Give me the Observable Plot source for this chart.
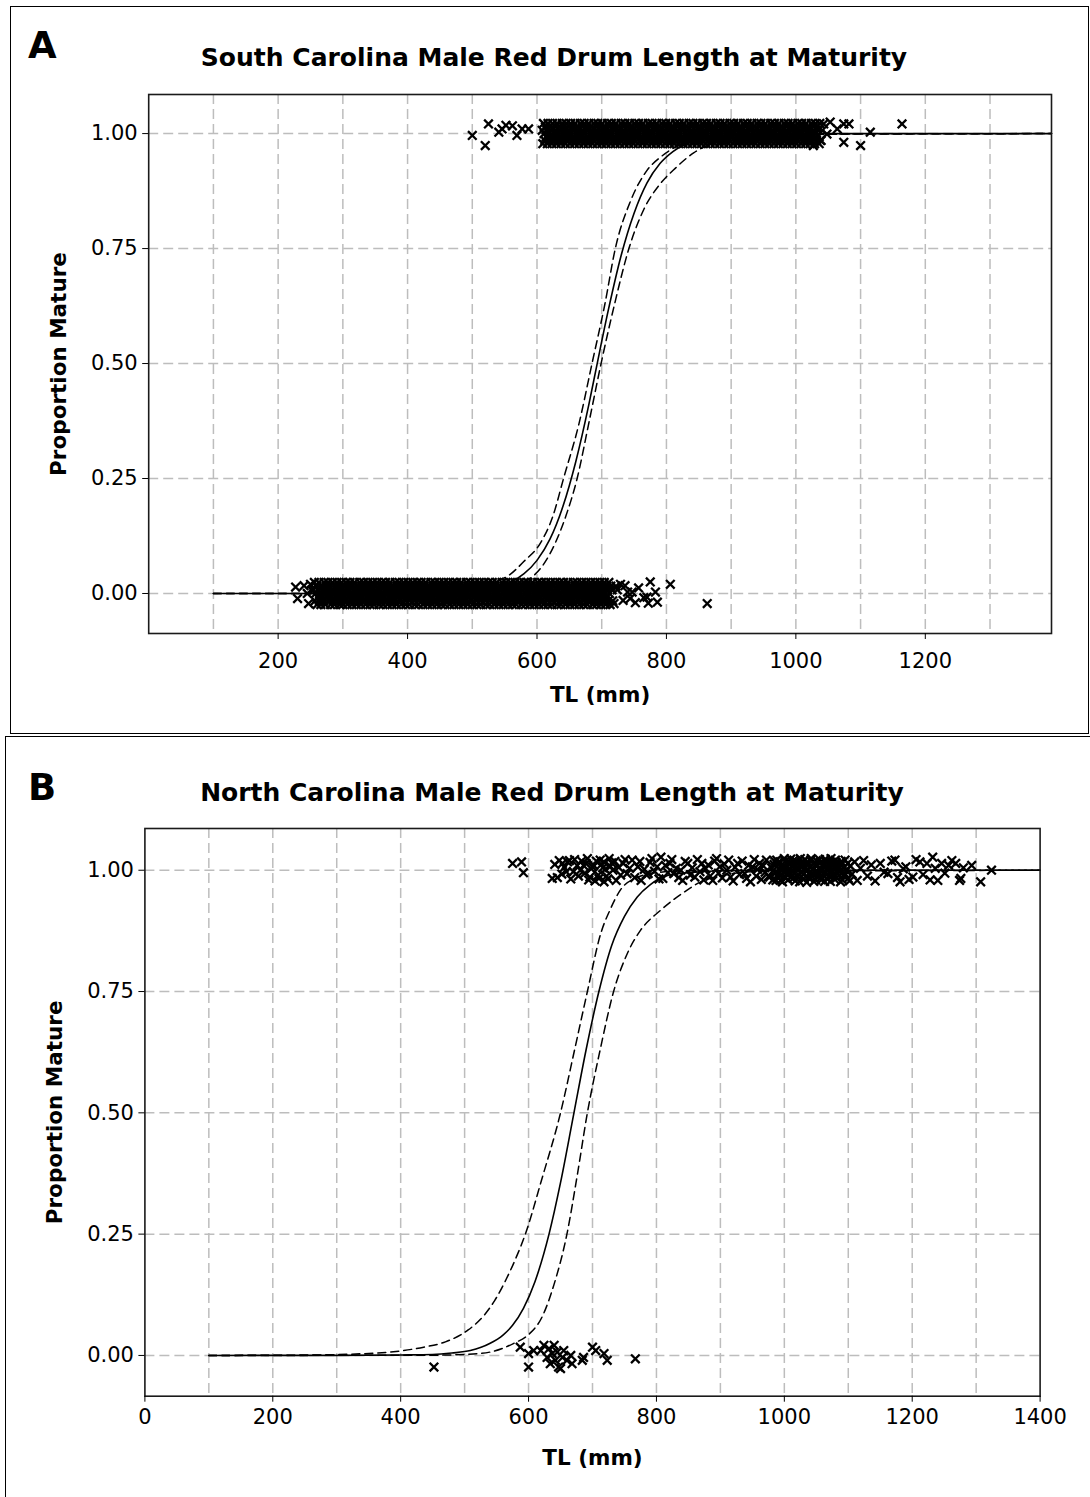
<!DOCTYPE html>
<html><head><meta charset="utf-8">
<script src="https://cdn.jsdelivr.net/npm/d3@7"></script>
<script src="https://cdn.jsdelivr.net/npm/@observablehq/plot@0.6"></script>
<style>
body{margin:0;background:#fff;}
#root{position:relative;width:1090px;height:1497px;overflow:hidden;background:#fff;}
.panel{position:absolute;border:1px solid #000;box-sizing:border-box;}
.chart{position:absolute;left:0;}
#ann{position:absolute;left:0;top:0;}
</style></head><body>
<div id="root">
  <div class="panel" style="left:10px;top:6px;width:1079px;height:728px"></div>
  <div class="panel" style="left:5px;top:736px;width:1100px;height:800px"></div>
  <svg id="ann" width="1090" height="1497" font-family="DejaVu Sans, Verdana, sans-serif" font-weight="bold">
    <text x="28" y="58" font-size="37">A</text>
    <text x="554" y="66" font-size="25" text-anchor="middle">South Carolina Male Red Drum Length at Maturity</text>
    <text x="28" y="800" font-size="37">B</text>
    <text x="552" y="801" font-size="25" text-anchor="middle">North Carolina Male Red Drum Length at Maturity</text>
  </svg>
  <div id="chartA" class="chart" style="top:0"></div>
  <div id="chartB" class="chart" style="top:737px"></div>
</div>
<script>
// ---------- shared ticks ----------
const yTicks = [0, 0.25, 0.5, 0.75, 1];
const gridXVals = [100,200,300,400,500,600,700,800,900,1000,1100,1200,1300];
const xTicksA = [200,400,600,800,1000,1200];
const xTicksB = [0,200,400,600,800,1000,1200,1400];

// ---------- Panel A: South Carolina ----------
// fitted curve (solid) and confidence bounds (dashed)
const scFitX = [100,200,300,400,450,500,530,560,580,600,620,640,660,680,693,710,730,750,770,790,810,840,870,900,950,1000,1100,1395];
const scFitY = [0,0,0,0.0003,0.0013,0.005,0.011,0.025,0.043,0.072,0.118,0.189,0.287,0.41,0.5,0.615,0.735,0.827,0.893,0.935,0.961,0.983,0.992,0.997,0.999,1,1,1];
const scLoX = [100,400,500,540,556,580,605,625,641,665,685,705,721,745,770,791,820,860,900,1000,1395];
const scLoY = [0,0.0005,0.012,0.028,0.039,0.07,0.109,0.17,0.25,0.37,0.5,0.63,0.75,0.855,0.92,0.949,0.975,0.99,0.996,0.999,1];
const scHiX = [100,400,500,550,595,628,645,662,680,699,720,742,765,790,814,842,870,910,960,1395];
const scHiY = [0,0.0001,0.002,0.012,0.039,0.109,0.17,0.25,0.37,0.5,0.63,0.75,0.835,0.89,0.925,0.958,0.978,0.992,0.998,1];

// immature fish (plotted at 0 with jitter) - dense band rows
const scImmJitter = [0.024, 0.016, 0.008, 0, -0.008, -0.016, -0.024];
const scImm1 = [256,263,271,277,284,291,298,305,311,318,326,332,339,346,353,360,366,373,381,387,394,401,408,415,421,428,436,442,449,456,463,470,476,483,491,497,504,511,518,525,531,538,546,552,559,566,573,580,586,593,601,607,614,621,628,635,641,648,656,662,669,676,683,690,697,704,711];
const scImm2 = [259,267,274,280,288,294,301,309,315,322,329,336,343,349,357,363,370,377,384,391,398,404,412,418,425,432,439,446,453,459,467,473,480,487,494,501,508,514,522,528,535,542,549,556,563,569,577,583,590,597,604,611,618,624,632,638,645,652,659,666,673,679,687,693,700,707,714,722];
const scImm3 = [255,262,269,276,283,290,296,303,310,317,324,331,338,345,351,358,365,372,379,386,393,400,406,413,420,427,434,441,448,455,461,468,475,482,489,496,503,510,516,523,530,537,544,551,558,565,571,578,585,592,599,606,613,620,626,633,640,647,654,661,668,675,681,688,695,702,709,716];
const scImm4 = [258,265,272,279,286,293,299,306,313,320,327,334,341,347,354,361,368,375,382,389,395,402,409,416,423,430,437,444,450,457,464,471,478,485,492,499,505,512,519,526,533,540,547,554,560,567,574,581,588,595,602,609,615,622,629,636,643,650,657,664,670,677,684,691,698,705,712];
const scImm5 = [261,268,275,282,289,296,302,309,316,323,330,337,344,350,357,364,371,378,385,392,398,405,412,419,426,433,440,447,453,460,467,474,481,488,495,502,508,515,522,529,536,543,550,557,563,570,577,584,591,598,605,612,618,625,632,639,646,653,660,667,673,680,687,694,701,708];
const scImm6 = [257,264,270,278,285,292,297,304,312,319,325,333,340,346,352,359,367,374,380,388,396,403,410,417,422,429,435,443,451,458,462,469,477,484,490,498,506,513,520,527,532,539,545,553,561,568,572,579,587,594,600,608,616,623,630,637,642,649,655,663,671,678,682,689,696,703,710,717];
const scImm7 = [260,266,273,281,287,295,300,307,314,321,328,335,342,348,356,362,369,376,383,390,397,403,411,417,424,431,438,445,452,458,465,472,479,486,493,500,507,513,521,527,534,541,548,555,562,568,576,582,589,596,603,610,617,623,631,637,644,651,658,665,672,678,686,692,699,706,713];
// sparse immature points: [TL, jitter]
const scImmSparse = [[227,0.014],[230,-0.011],[240,0.017],[245,0],[247,-0.022],[252,0.007],[250,0.02],
  [719,-0.022],[724,0.008],[729,0.02],[733,-0.015],[736,0.017],[740,0.003],[744,-0.011],[747,0.003],[752,-0.02],[757,0.012],
  [765,-0.009],[770,-0.008],[772,-0.021],[775,0.025],[783,0.003],[786,-0.019],[806,0.02],[863,-0.022]];

// mature fish (plotted at 1 with jitter) - dense band rows
const scMatJitter = [0.022, 0.015, 0.007, 0, -0.007, -0.015, -0.022];
const scMat1 = [610,617,624,631,639,645,652,659,667,673,680,688,694,701,709,715,722,730,736,743,751,757,764,772,778,785,793,799,806,814,820,827,835,841,848,856,862,869,877,883,890,898,904,911,919,925,932,940,946,953,961,967,974,982,988,995,1003,1009,1016,1024,1030,1037];
const scMat2 = [613,620,628,634,641,649,655,662,670,676,683,691,697,704,712,718,725,733,739,746,754,760,767,775,781,788,796,802,809,817,823,830,838,844,851,859,865,872,880,886,893,901,907,914,922,928,935,943,949,956,964,970,977,985,991,998,1006,1012,1019,1027,1033];
const scMat3 = [608,615,622,629,636,643,650,657,664,671,678,685,692,699,706,713,720,727,734,741,748,755,762,769,776,783,790,797,804,811,818,825,832,839,846,853,860,867,874,881,888,895,902,909,916,923,930,937,944,951,958,965,972,979,986,993,1000,1007,1014,1021,1028,1035,1041];
const scMat4 = [611,618,626,632,640,647,653,661,668,674,682,689,695,703,710,716,724,731,737,745,752,758,766,773,779,787,794,800,808,815,821,829,836,842,850,857,863,871,878,884,892,899,905,913,920,926,934,941,947,955,962,968,976,983,989,997,1004,1010,1018,1025,1031];
const scMat5 = [614,621,627,635,642,648,656,663,669,677,684,690,698,705,711,719,726,732,740,747,753,761,768,774,782,789,795,803,810,816,824,831,837,845,852,858,866,873,879,887,894,900,908,915,921,929,936,942,950,957,963,971,978,984,992,999,1005,1013,1020,1026,1034];
const scMat6 = [612,619,625,633,638,646,654,660,666,675,681,687,696,702,708,717,723,729,738,744,750,759,765,771,780,786,792,801,807,813,822,828,834,843,849,855,864,870,876,885,891,897,906,912,918,927,933,939,948,954,960,969,975,981,990,996,1002,1011,1017,1023,1032,1039];
const scMat7 = [609,616,623,630,637,644,651,658,665,672,679,686,693,700,707,714,721,728,735,742,749,756,763,770,777,784,791,798,805,812,819,826,833,840,847,854,861,868,875,882,889,896,903,910,917,924,931,938,945,952,959,966,973,980,987,994,1001,1008,1015,1022,1029,1036];
const scMatSparse = [[500,-0.004],[520,-0.026],[525,0.021],[541,0.003],[546,0.01],[552,0.018],[562,0.017],[569,-0.004],[577,0.01],[587,0.01],
  [1027,-0.026],[1038,-0.015],[1043,0.021],[1048,-0.001],[1053,0.025],[1064,0.01],[1074,0.021],[1074,-0.019],[1082,0.021],[1100,-0.026],[1115,0.003],[1164,0.021]];

// ---------- Panel B: North Carolina ----------
const ncFitX = [100,300,400,450,480,509,540,560,575,592,610,632,650,671,690,710,730,750,770,790,820,860,900,1000,1400];
const ncFitY = [0,0.0002,0.001,0.002,0.005,0.01,0.025,0.042,0.062,0.097,0.152,0.25,0.356,0.5,0.63,0.75,0.845,0.905,0.945,0.97,0.99,0.996,0.999,1,1];
const ncLoX = [100,270,330,384,436,470,505,530,547,565,580,595,620,650,672,692,713,728,744,770,800,850,1400];
const ncLoY = [0,0.001,0.003,0.007,0.017,0.028,0.052,0.082,0.113,0.157,0.2,0.25,0.36,0.5,0.63,0.75,0.87,0.92,0.96,0.985,0.995,0.999,1];
const ncHiX = [100,450,500,540,577,600,621,640,660,676,692,712,733,755,775,806,848,869,900,950,1400];
const ncHiY = [0,0.0005,0.002,0.007,0.025,0.043,0.079,0.147,0.25,0.37,0.5,0.63,0.75,0.83,0.876,0.917,0.959,0.976,0.988,0.997,1];

const ncImm = [[452,-0.024],[587,0.017],[600,0.004],[600,-0.024],[608,0.01],[619,0.01],[624,0.021],[629,-0.004],[632,0.014],[634,-0.017],[637,0.004],[640,0.021],[642,-0.01],[645,0.007],[647,-0.024],[650,-0.027],[653,-0.004],[655,0.01],[660,-0.01],[666,0],[668,-0.017],[684,-0.01],[686,-0.004],[700,0.017],[705,0.01],[718,0.004],[723,-0.01],[767,-0.007]];
const ncMat = [[575,0.014],[589,0.017],[592,-0.005],
 [637,-0.017],[653,0.014],[659,-0.003],[664,0.02],[670,-0.003],[676,0.01],[681,0],[686,0.01],[690,0.014],[694,-0.02],[698,0.003],[702,0.01],[704,-0.022],[709,-0.01],[712,0.021],[716,0.005],[718,-0.024],[718,0.017],[722,-0.012],[726,0.024],[728,0.008],[732,0],[735,0.018],[737,-0.021],[741,0.006],[744,-0.01],[748,0.014],[751,0.022],[754,-0.007],[758,0.004],[762,0.021],[766,-0.015],[771,0.007],[774,0.018],[776,-0.021],[781,0.002],[784,-0.009],[787,-0.007],[790,0.016],[793,0.024],[797,-0.002],[801,0.007],[804,-0.018],[807,0.027],[810,-0.017],[814,0.01],[818,-0.005],[821,0.014],[824,0.022],[827,-0.007],[831,0.004],[835,-0.015],[838,0],[841,-0.021],[845,0.018],[849,0.014],[853,-0.01],[856,0.005],[860,-0.014],[864,0.022],[868,-0.003],[871,0.014],[874,-0.02],[877,0.003],[881,0.011],[884,-0.012],[888,-0.021],[891,0.019],[894,0.024],[897,-0.006],[899,0.007],[903,-0.016],[906,0.013],[910,0],[913,0.021],[916,-0.014],[920,-0.022],[923,0.006],[927,0.014],[930,-0.009],[934,0.019],[938,-0.007],[941,-0.017],[944,0.01],[947,-0.024],[950,0.007],[953,0.022],[956,-0.012],[958,0.002],[961,0.014],[964,-0.019],[967,0.009],[970,-0.004],[972,0.021],[975,-0.013],[977,-0.014],[980,0.005],[983,0],[985,0.018],[987,-0.021],[989,0.014],[991,-0.008],[994,-0.021],[996,0.011],[998,0.003],[1000,0.024],[1002,-0.015],[1005,0],[1007,0.019],[1009,-0.005],[1011,-0.014],[1013,0.008],[1015,0.021],[1017,-0.022],[1019,0.002],[1021,0.013],[1023,-0.01],[1025,0.024],[1027,-0.003],[1029,0.016],[1031,-0.018],[1033,0.006],[1035,-0.025],[1037,0.011],[1039,-0.006],[1041,0.02],[1043,-0.013],[1045,0.003],[1047,0.015],[1049,-0.02],[1051,0.009],[1053,-0.004],[1055,0.022],[1057,-0.016],[1059,0.001],[1061,0.012],[1063,-0.023],[1065,0.018],[1067,-0.008],[1069,0.005],[1071,-0.014],[1073,0.024],[1075,-0.002],[1077,0.011],[1079,-0.019],[1081,0.016],[1083,-0.006],[1085,0.003],[1088,-0.024],[1090,0.013],[1092,-0.011],[1095,0.021],[1097,-0.001],[1100,-0.017],[1103,0.009],[1106,-0.008],[1110,0.017],[1114,-0.021],[1119,0.004],[1124,0.02],[1130,-0.012],[1136,0.011],[1142,-0.022],[1150,0.014],[1156,-0.004],[1162,-0.007],[1168,0.019],[1173,0.021],[1177,-0.015],[1181,-0.024],[1186,0.003],[1190,0.007],[1195,-0.019],[1201,-0.014],[1206,0.022],[1212,0.017],[1217,-0.009],[1223,0.014],[1228,-0.02],[1232,0.027],[1236,0.004],[1240,-0.021],[1246,0.014],[1251,-0.006],[1257,0.01],[1262,0.02],[1268,0.014],[1274,-0.021],[1276,-0.017],[1280,0.005],[1293,0.01],[1307,-0.024],[1324,0]];
const ncMatDense = [[641,0.012],[645,-0.015],[648,0.02],[652,-0.008],[656,0.006],[661,0.017],[666,-0.018],[672,0.022],[678,-0.012],[683,0.019],[688,-0.006],[692,0.024],[696,-0.014],[700,0.007],[706,0.019],[710,-0.017],[714,0.012],[720,0.002],[724,-0.018],[730,0.015],
 [982,-0.02],[984,0.012],[986,-0.006],[988,0.021],[990,-0.014],[992,0.004],[993,0.017],[995,-0.011],[997,-0.024],[999,0.009],[1001,0.018],[1003,-0.008],[1004,0.005],[1006,-0.02],[1008,0.013],[1010,0.023],[1012,-0.002],[1014,-0.017],[1016,0.01],[1018,0.019],[1020,-0.013],[1022,0.004],[1024,-0.024],[1026,0.015],[1028,0.007],[1030,-0.009],[1032,0.022],[1034,-0.002],[1036,0.017],[1038,-0.016],[1040,0.008],[1042,0.024],[1044,-0.007],[1046,-0.023],[1048,0.011],[1050,0.02],[1052,-0.012],[1054,0.003],[1056,0.016],[1058,-0.02],[1060,0.008],[1062,-0.004],[1064,0.023],[1066,-0.017],[1068,0.012],[1070,0.001],[1072,-0.023],[1074,0.016],[1076,-0.01],[1078,0.006],[1080,0.021],[1082,-0.015],[1084,0.01],[1086,-0.003],[1089,0.018],[1091,-0.02],[1094,0.006],[1096,-0.009],[1099,0.014],[1102,-0.022]];

// ---------- helpers ----------
const zip = (xs, ys) => xs.map((x, i) => ({tl: x, p: ys[i]}));
const rows = (rs, jit, base) => rs.flatMap((xs, i) => xs.map(x => ({tl: x, p: base + jit[i]})));
const pairs = (ps, base) => ps.map(([x, j]) => ({tl: x, p: base + j}));

const FONT = "DejaVu Sans, Verdana, sans-serif";
const gridStyle = {stroke: "#bdbdbd", strokeOpacity: 1, strokeWidth: 1.5, strokeDasharray: "10,5"};
const dotStyle = {x: "tl", y: "p", symbol: "times", r: 4.0, stroke: "black", strokeWidth: 2.3};

function panel({width, height, mL, mR, mT, mB, xDomain, yDomain, xTicks, tickPad, fit, lo, hi, points}) {
  return Plot.plot({
    width, height, marginLeft: mL, marginRight: mR, marginTop: mT, marginBottom: mB,
    x: {domain: xDomain, label: null},
    y: {domain: yDomain, label: null},
    style: {fontFamily: FONT, fontSize: "21px", color: "#000", background: "transparent", overflow: "visible"},
    marks: [
      Plot.ruleX(gridXVals, gridStyle),
      Plot.ruleY(yTicks, gridStyle),
      Plot.line(lo, {x: "tl", y: "p", stroke: "black", strokeWidth: 1.5, strokeDasharray: "8,5", curve: "monotone-x"}),
      Plot.line(hi, {x: "tl", y: "p", stroke: "black", strokeWidth: 1.5, strokeDasharray: "8,5", curve: "monotone-x"}),
      Plot.line(fit, {x: "tl", y: "p", stroke: "black", strokeWidth: 1.6, curve: "monotone-x"}),
      Plot.dot(points, dotStyle),
      Plot.frame({stroke: "#1a1a1a", strokeWidth: 1.6}),
      Plot.axisX(xTicks, {tickSize: 6, tickPadding: tickPad, tickFormat: d => String(d), fontSize: 21, label: null}),
      Plot.axisY(yTicks, {tickSize: 6, tickPadding: 5, tickFormat: d3.format(".2f"), fontSize: 21, label: null}),
      Plot.text(["TL (mm)"], {frameAnchor: "bottom", dy: 62, textAnchor: "middle", lineAnchor: "middle", fontWeight: "bold", fontSize: 21.5}),
      Plot.text(["Proportion Mature"], {frameAnchor: "left", dx: -90, rotate: -90, textAnchor: "middle", lineAnchor: "middle", fontWeight: "bold", fontSize: 21.5})
    ]
  });
}

const ptsA = [
  ...rows([scImm1, scImm2, scImm3, scImm4, scImm5, scImm6, scImm7], scImmJitter, 0),
  ...pairs(scImmSparse, 0),
  ...rows([scMat1, scMat2, scMat3, scMat4, scMat5, scMat6, scMat7], scMatJitter, 1),
  ...pairs(scMatSparse, 1)
];
const ptsB = [...pairs(ncImm, 0), ...pairs(ncMat, 1), ...pairs(ncMatDense, 1)];

document.getElementById("chartA").append(panel({
  width: 1090, height: 733, mL: 148.2, mR: 39, mT: 94, mB: 100,
  xDomain: [0, 1395], yDomain: [-0.087, 1.085], xTicks: xTicksA, tickPad: 14,
  fit: zip(scFitX, scFitY), lo: zip(scLoX, scLoY), hi: zip(scHiX, scHiY), points: ptsA
}));
document.getElementById("chartB").append(panel({
  width: 1090, height: 760, mL: 144.4, mR: 50.4, mT: 91, mB: 101.3,
  xDomain: [0, 1400], yDomain: [-0.084, 1.086], xTicks: xTicksB, tickPad: 7,
  fit: zip(ncFitX, ncFitY), lo: zip(ncLoX, ncLoY), hi: zip(ncHiX, ncHiY), points: ptsB
}));
</script>
</body></html>
